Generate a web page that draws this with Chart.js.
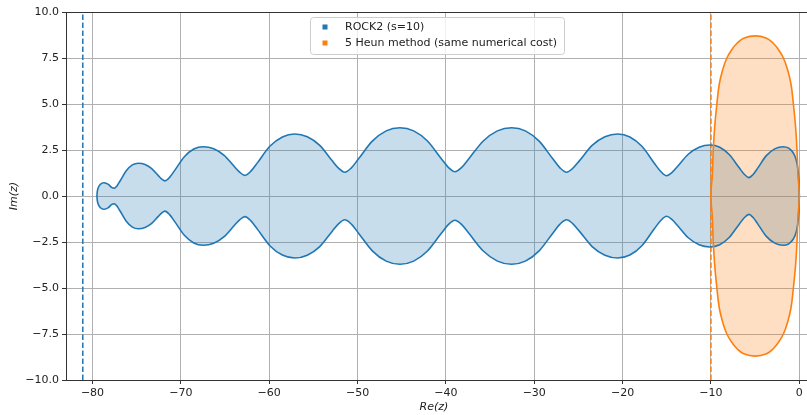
<!DOCTYPE html>
<html>
<head>
<meta charset="utf-8">
<script src="https://cdn.jsdelivr.net/npm/chart.js@4.4.0/dist/chart.umd.min.js"></script>
<style>
  html, body { margin: 0; padding: 0; background: #fff; }
</style>
</head>
<body>
<canvas id="stability-chart" width="807" height="415"></canvas>
<script>
// tick positions of both axes
const xTicks = [-80, -70, -60, -50, -40, -30, -20, -10, 0];
const yTicks = [-10, -7.5, -5, -2.5, 0, 2.5, 5, 7.5, 10];

// ROCK2 (s=10) stability boundary
const rockX = [-79.5, -79.47, -79.4, -79.1, -78.7, -78.2, -77.85, -77.55,
  -77.22, -76.86, -76.18, -75.49, -74.8, -74.05, -73.3, -72.55, -72.16, -71.8,
  -71.28, -70.71, -69.63, -68.54, -67.45, -66.28, -65.1, -63.93, -63.31, -62.75,
  -62.07, -61.34, -59.93, -58.51, -57.1, -55.69, -54.28, -52.86, -52.13, -51.45,
  -50.7, -49.89, -48.33, -46.76, -45.2, -43.65, -42.09, -40.54, -39.73, -38.98,
  -38.21, -37.38, -35.77, -34.17, -32.56, -31.01, -29.45, -27.9, -27.09, -26.34,
  -25.65, -24.9, -23.45, -22.0, -20.56, -19.18, -17.79, -16.41, -15.68, -15.02,
  -14.43, -13.79, -12.57, -11.34, -10.11, -9.01, -7.91, -6.8, -6.23, -5.7,
  -5.23, -4.73, -3.76, -2.78, -1.81, -1.2, -0.7, -0.35, -0.12, -0.03, 0];
const rockUpper = [0, 0.2, 0.38, 0.64, 0.72, 0.63, 0.47, 0.42,
  0.56, 0.83, 1.37, 1.69, 1.78, 1.71, 1.49, 1.11, 0.92, 0.82,
  1.01, 1.38, 2.12, 2.55, 2.68, 2.57, 2.21, 1.59, 1.28, 1.12,
  1.35, 1.8, 2.7, 3.21, 3.37, 3.22, 2.75, 1.91, 1.5, 1.29,
  1.53, 2.02, 2.98, 3.54, 3.71, 3.54, 2.99, 2.04, 1.56, 1.32,
  1.56, 2.04, 2.99, 3.54, 3.71, 3.54, 2.98, 2.02, 1.53, 1.29,
  1.5, 1.91, 2.75, 3.22, 3.37, 3.21, 2.69, 1.78, 1.33, 1.1,
  1.27, 1.6, 2.27, 2.65, 2.77, 2.65, 2.24, 1.53, 1.18, 1.0,
  1.17, 1.5, 2.18, 2.56, 2.68, 2.6, 2.35, 1.95, 1.3, 0.6, 0];
const rockLower = [0, -0.2, -0.38, -0.64, -0.72, -0.63, -0.47, -0.42,
  -0.56, -0.83, -1.37, -1.69, -1.78, -1.71, -1.49, -1.11, -0.92, -0.82,
  -1.01, -1.38, -2.12, -2.55, -2.68, -2.57, -2.21, -1.59, -1.28, -1.12,
  -1.35, -1.8, -2.7, -3.21, -3.37, -3.22, -2.75, -1.91, -1.5, -1.29,
  -1.53, -2.02, -2.98, -3.54, -3.71, -3.54, -2.99, -2.04, -1.56, -1.32,
  -1.56, -2.04, -2.99, -3.54, -3.71, -3.54, -2.98, -2.02, -1.53, -1.29,
  -1.5, -1.91, -2.75, -3.22, -3.37, -3.21, -2.69, -1.78, -1.33, -1.1,
  -1.27, -1.6, -2.27, -2.65, -2.77, -2.65, -2.24, -1.53, -1.18, -1.0,
  -1.17, -1.5, -2.18, -2.56, -2.68, -2.6, -2.35, -1.95, -1.3, -0.6, 0];

// 5 x Heun stability boundary
const heunX = [-10, -9.96, -9.86, -9.74, -9.57, -9.33, -9.05, -8.65, -8.2, -7.65, -7.05, -6.3, -5.0,
  -3.7, -2.95, -2.35, -1.8, -1.35, -0.95, -0.67, -0.43, -0.26, -0.14, -0.04, 0];
const heunUpper = [0, 0.5, 1.0, 2.5, 3.8, 5.0, 6.1, 6.9, 7.5, 7.95, 8.3, 8.57, 8.7,
  8.57, 8.3, 7.95, 7.5, 6.9, 6.1, 5.0, 3.8, 2.5, 1.0, 0.5, 0];
const heunLower = [0, -0.5, -1.0, -2.5, -3.8, -5.0, -6.1, -6.9, -7.5, -7.95, -8.3, -8.57, -8.7,
  -8.57, -8.3, -7.95, -7.5, -6.9, -6.1, -5.0, -3.8, -2.5, -1.0, -0.5, 0];

// stability limits (dashed verticals)
const rockLimit = -81.1;
const heunLimit = -10;
const limitSpan = [-10, 10];

const legendLabels = ['ROCK2 (s=10)', '5 Heun method (same numerical cost)'];

const blue = '#1f77b4';
const orange = '#ff7f0e';

function toPoints(xs, ys) {
  return xs.map((x, i) => ({x: x, y: ys[i]}));
}

function vertical(x) {
  return limitSpan.map(y => ({x: x, y: y}));
}

function fmt(v, digits) {
  return (v < 0 ? '\u2212' : '') + Math.abs(v).toFixed(digits);
}

// top spine, legend and axis titles
const decorations = {
  id: 'decorations',
  afterDraw(chart) {
    const ctx = chart.ctx;
    const area = chart.chartArea;
    ctx.save();
    ctx.strokeStyle = '#333';
    ctx.lineWidth = 1;
    ctx.beginPath();
    ctx.moveTo(area.left, area.top + 0.5);
    ctx.lineTo(area.right, area.top + 0.5);
    ctx.stroke();

    // legend box
    ctx.fillStyle = 'rgba(255,255,255,0.8)';
    ctx.strokeStyle = '#cccccc';
    ctx.beginPath();
    ctx.roundRect(310.5, 17.5, 254, 37, 3);
    ctx.fill();
    ctx.stroke();
    ctx.font = '11px "DejaVu Sans"';
    ctx.textBaseline = 'middle';
    ctx.textAlign = 'left';
    [blue, orange].forEach((c, i) => {
      const cy = 27 + i * 16;
      ctx.fillStyle = c;
      ctx.fillRect(322.5, cy - 2.5, 5, 5);
      ctx.fillStyle = '#222';
      ctx.fillText(legendLabels[i], 345, cy);
    });

    // axis titles
    ctx.font = 'italic 11px "DejaVu Sans"';
    ctx.textAlign = 'center';
    ctx.fillStyle = '#222';
    ctx.fillText('Re(z)', 434, 407);
    ctx.translate(14, 196);
    ctx.rotate(-Math.PI / 2);
    ctx.fillText('Im(z)', 0, 0);
    ctx.restore();
  }
};

// rock2 curve follows x monotonically, heun curve is drawn as a free spline
const rockCurve = { showLine: true, borderWidth: 1.6, pointRadius: 0, tension: 0.4, cubicInterpolationMode: 'monotone' };
const heunCurve = { showLine: true, borderWidth: 1.6, pointRadius: 0, tension: 0.4 };

new Chart('stability-chart', {
  type: 'scatter',
  data: {
    datasets: [
      // heun boundary, top half filled down to the bottom half
      Object.assign({ data: toPoints(heunX, heunUpper), borderColor: orange,
        fill: '+1', backgroundColor: 'rgba(255,127,14,0.25)' }, heunCurve),
      Object.assign({ data: toPoints(heunX, heunLower), borderColor: orange }, heunCurve),
      // rock2 boundary
      Object.assign({ data: toPoints(rockX, rockUpper), borderColor: blue,
        fill: '+1', backgroundColor: 'rgba(31,119,180,0.25)' }, rockCurve),
      Object.assign({ data: toPoints(rockX, rockLower), borderColor: blue }, rockCurve),
      {
        data: vertical(rockLimit),
        showLine: true, borderColor: blue, borderWidth: 1.5, borderDash: [5.5, 2.5], pointRadius: 0
      }, {
        data: vertical(heunLimit),
        showLine: true, borderColor: orange, borderWidth: 1.5, borderDash: [5.5, 2.5], pointRadius: 0
      }
    ]
  },
  options: {
    responsive: false,
    animation: false,
    devicePixelRatio: 1,
    layout: { padding: { top: 12, right: 0, left: 0, bottom: 0 } },
    plugins: {
      legend: { display: false },
      tooltip: { enabled: false },
      filler: { drawTime: 'beforeDatasetsDraw' }
    },
    scales: {
      x: {
        type: 'linear',
        min: -83,
        max: 0.87,
        afterFit: s => { s.height = 35; },
        afterBuildTicks: s => { s.ticks = xTicks.map(v => ({value: v})); },
        ticks: {
          color: '#222', padding: 3, maxRotation: 0,
          font: { family: 'DejaVu Sans', size: 11 },
          callback: v => fmt(v, 0)
        },
        grid: { color: '#b0b0b0', lineWidth: 1, tickColor: '#333', tickLength: 4 },
        border: { color: '#333', width: 1 }
      },
      y: {
        type: 'linear',
        min: -10,
        max: 10,
        afterFit: s => { s.width = 66; },
        afterBuildTicks: s => { s.ticks = yTicks.map(v => ({value: v})); },
        ticks: {
          color: '#222', padding: 3,
          font: { family: 'DejaVu Sans', size: 11 },
          callback: v => fmt(v, 1)
        },
        grid: { color: '#b0b0b0', lineWidth: 1, tickColor: '#333', tickLength: 4 },
        border: { color: '#333', width: 1 }
      }
    }
  },
  plugins: [decorations]
});
</script>
</body>
</html>
